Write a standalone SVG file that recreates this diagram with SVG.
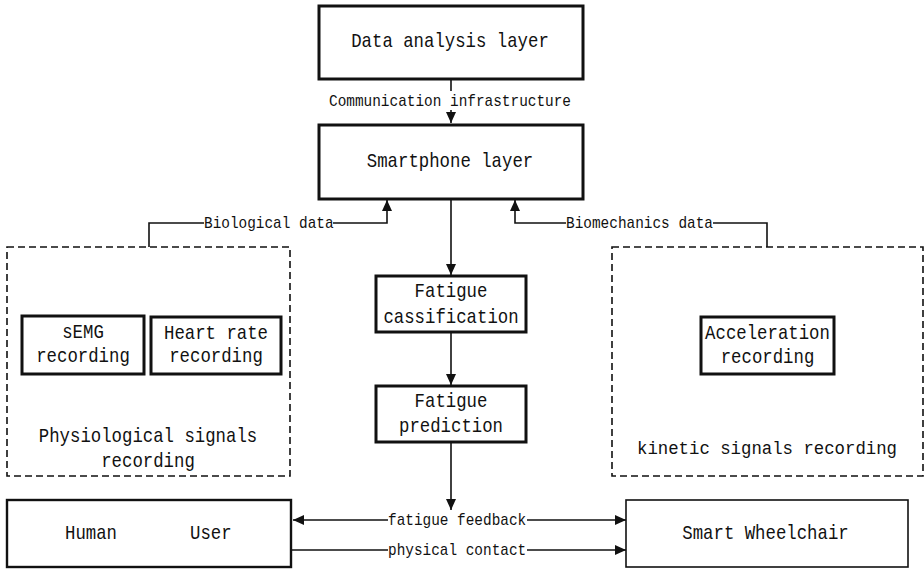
<svg xmlns="http://www.w3.org/2000/svg" width="924" height="570" viewBox="0 0 924 570">
<style>
.box{fill:#fff;stroke:#111;stroke-width:3}
.thin{fill:#fff;stroke:#111;stroke-width:1.6}
.dash{fill:none;stroke:#111;stroke-width:1.6;stroke-dasharray:7 4}
.ln{fill:none;stroke:#111;stroke-width:1.6}
text{font-family:"Liberation Mono","DejaVu Sans Mono",monospace;fill:#111}
.t{font-size:21px}
.s{font-size:17px}
.m{text-anchor:middle}
</style>
<defs>
<marker id="ah" markerUnits="userSpaceOnUse" markerWidth="12" markerHeight="10" refX="11" refY="5" orient="auto">
<path d="M0,0 L11,5 L0,10 z" fill="#111"/>
</marker>
</defs>

<g id="connectors">
<line class="ln" x1="451" y1="79" x2="451" y2="91"/>
<line class="ln" x1="451" y1="110" x2="451" y2="123" marker-end="url(#ah)"/>
<line class="ln" x1="451" y1="199" x2="451" y2="275" marker-end="url(#ah)"/>
<line class="ln" x1="451" y1="332" x2="451" y2="385" marker-end="url(#ah)"/>
<line class="ln" x1="451" y1="442" x2="451" y2="510" marker-end="url(#ah)"/>
<polyline class="ln" points="149,247 149,223 204,223"/>
<polyline class="ln" points="333,223 387,223 387,200" marker-end="url(#ah)"/>
<polyline class="ln" points="767,247 767,223 713,223"/>
<polyline class="ln" points="566,223 515,223 515,200" marker-end="url(#ah)"/>
<line class="ln" x1="388" y1="520" x2="293" y2="520" marker-end="url(#ah)"/>
<line class="ln" x1="527" y1="520" x2="626" y2="520" marker-end="url(#ah)"/>
<line class="ln" x1="292" y1="550" x2="388" y2="550"/>
<line class="ln" x1="527" y1="550" x2="626" y2="550" marker-end="url(#ah)"/>
<text class="s m" x="450" y="106" textLength="242" lengthAdjust="spacingAndGlyphs">Communication infrastructure</text>
<text class="s" x="204" y="228" textLength="129.6" lengthAdjust="spacingAndGlyphs">Biological data</text>
<text class="s" x="566" y="228" textLength="147" lengthAdjust="spacingAndGlyphs">Biomechanics data</text>
<text class="s" x="388" y="525" textLength="138.2" lengthAdjust="spacingAndGlyphs">fatigue feedback</text>
<text class="s" x="388" y="555" textLength="138.2" lengthAdjust="spacingAndGlyphs">physical contact</text>
</g>

<g id="data-analysis">
<rect class="box" x="319" y="6" width="264" height="73"/>
<text class="t m" x="450" y="47" textLength="197.6" lengthAdjust="spacingAndGlyphs">Data analysis layer</text>
</g>

<g id="smartphone">
<rect class="box" x="319" y="125" width="264" height="74"/>
<text class="t m" x="450" y="167" textLength="166.4" lengthAdjust="spacingAndGlyphs">Smartphone layer</text>
</g>

<g id="physiological">
<rect class="dash" x="7" y="247" width="283" height="229"/>
<text class="t m" x="148" y="442" textLength="218.4" lengthAdjust="spacingAndGlyphs">Physiological signals</text>
<text class="t m" x="148" y="467" textLength="93.6" lengthAdjust="spacingAndGlyphs">recording</text>
</g>

<g id="semg">
<rect class="box" x="22" y="316" width="122" height="58"/>
<text class="t m" x="83" y="338" textLength="41.6" lengthAdjust="spacingAndGlyphs">sEMG</text>
<text class="t m" x="83" y="362" textLength="93.6" lengthAdjust="spacingAndGlyphs">recording</text>
</g>

<g id="heart-rate">
<rect class="box" x="151" y="317" width="130" height="57"/>
<text class="t m" x="216" y="339" textLength="104" lengthAdjust="spacingAndGlyphs">Heart rate</text>
<text class="t m" x="216" y="362" textLength="93.6" lengthAdjust="spacingAndGlyphs">recording</text>
</g>

<g id="kinetic">
<rect class="dash" x="612" y="247" width="311" height="229"/>
<text class="m" x="767" y="454" style="font-size:19px" textLength="260" lengthAdjust="spacingAndGlyphs">kinetic signals recording</text>
</g>

<g id="acceleration">
<rect class="box" x="701" y="317" width="133" height="57"/>
<text class="t m" x="767.5" y="339" textLength="124.8" lengthAdjust="spacingAndGlyphs">Acceleration</text>
<text class="t m" x="767.5" y="363" textLength="93.6" lengthAdjust="spacingAndGlyphs">recording</text>
</g>

<g id="fatigue-classification">
<rect class="box" x="376" y="276" width="150" height="56"/>
<text class="t m" x="451" y="297" textLength="72.8" lengthAdjust="spacingAndGlyphs">Fatigue</text>
<text class="t m" x="451" y="323" textLength="135.2" lengthAdjust="spacingAndGlyphs">cassification</text>
</g>

<g id="fatigue-prediction">
<rect class="box" x="376" y="386" width="150" height="56"/>
<text class="t m" x="451" y="407" textLength="72.8" lengthAdjust="spacingAndGlyphs">Fatigue</text>
<text class="t m" x="451" y="432" textLength="104" lengthAdjust="spacingAndGlyphs">prediction</text>
</g>

<g id="human-user">
<rect class="box" x="7" y="500" width="284" height="67" style="stroke-width:2.4"/>
<text class="t" x="65" y="539" textLength="52" lengthAdjust="spacingAndGlyphs">Human</text>
<text class="t" x="190" y="539" textLength="41.6" lengthAdjust="spacingAndGlyphs">User</text>
</g>

<g id="smart-wheelchair">
<rect class="thin" x="626" y="500" width="282" height="67"/>
<text class="t m" x="765.5" y="539" textLength="166.4" lengthAdjust="spacingAndGlyphs">Smart Wheelchair</text>
</g>
</svg>
